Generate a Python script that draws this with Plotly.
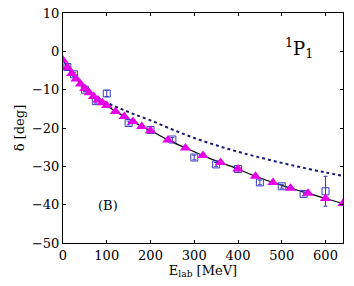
import plotly.graph_objects as go

# Model (triangles + solid line)
tri_x = [0, 10, 20, 30, 40, 50, 60, 70, 80, 90, 100, 120, 140, 160, 180, 200,
         240, 280, 320, 360, 400, 440, 480, 520, 560, 600, 640]
tri_y = [-2.3, -4.2, -5.8, -7.2, -8.5, -9.7, -10.8, -11.8, -12.7, -13.4, -14.1,
         -15.7, -17.0, -18.3, -19.6, -20.7, -23.1, -25.2, -27.2, -29.0, -30.7,
         -32.6, -34.2, -35.7, -37.0, -38.4, -39.7]

# Dotted curve
dot_x = [0, 25, 50, 75, 100, 130, 160, 200, 250, 300, 350, 400, 450, 500, 550, 600, 640]
dot_y = [-2.0, -6.0, -9.5, -11.9, -13.4, -14.9, -16.3, -18.0, -20.4, -22.6, -24.5,
         -26.2, -27.7, -29.1, -30.4, -31.6, -32.5]

# Experimental data (squares)
exp_x = [10, 25, 50, 75, 100, 150, 200, 250, 300, 350, 400, 450, 500, 550, 600]
exp_y = [-4.1, -6.0, -10.0, -13.0, -11.0, -18.7, -20.5, -23.0, -27.7, -29.5,
         -30.7, -34.2, -35.2, -37.2, -36.5]
exp_err = [0.5, 0.5, 0.5, 0.5, 0.8, 0.5, 0.5, 0.5, 0.6, 0.5, 0.5, 0.6, 0.5, 0.5, 3.9]

x_ticks = [0, 100, 200, 300, 400, 500, 600]
y_ticks = [10, 0, -10, -20, -30, -40, -50]
y_labels = ["10", "0", "\u221210", "\u221220", "\u221230", "\u221240", "\u221250"]

font_family = "DejaVu Serif, Liberation Serif, serif"

fig = go.Figure()
fig.add_trace(go.Scatter(x=dot_x, y=dot_y, mode="lines",
                         line=dict(color="#1a1a70", width=2, dash="3px,3px"),
                         line_shape="spline", showlegend=False))
fig.add_trace(go.Scatter(x=tri_x, y=tri_y, mode="lines",
                         line=dict(color="black", width=1.2),
                         line_shape="spline", showlegend=False))
fig.add_trace(go.Scatter(x=exp_x, y=exp_y, mode="markers",
                         marker=dict(symbol="square-open", size=7, color="#3c3cc8",
                                     line=dict(width=1)),
                         error_y=dict(type="data", array=exp_err, color="#3c3cc8",
                                      thickness=1, width=2),
                         showlegend=False))
fig.add_trace(go.Scatter(x=tri_x, y=tri_y, mode="markers",
                         marker=dict(symbol="triangle-up", size=10, color="#e600e6"),
                         showlegend=False))

fig.add_annotation(x=540, y=1.0, text="<sup>1</sup>P<sub>1</sub>", showarrow=False,
                   font=dict(size=18, family=font_family, color="black"))
fig.add_annotation(x=103, y=-40.3, text="(B)", showarrow=False,
                   font=dict(size=13, family=font_family, color="black"))

axis_common = dict(showline=True, linecolor="black", linewidth=1, mirror="ticks",
                   ticks="inside", ticklen=3, tickcolor="black", showgrid=False,
                   zeroline=False, automargin=False,
                   tickfont=dict(size=13, family=font_family, color="black"))

fig.update_xaxes(range=[0, 640], tickvals=x_ticks,
                 title=dict(text="E<sub>lab</sub> [MeV]", standoff=0,
                            font=dict(size=13, family=font_family, color="black")),
                 **axis_common)
fig.update_yaxes(range=[-50, 10], tickvals=y_ticks, ticktext=y_labels,
                 title=dict(text="\u03b4 [deg]", standoff=4,
                            font=dict(size=13, family=font_family, color="black")),
                 **axis_common)

fig.update_layout(width=354, height=286, margin=dict(l=63, r=11, t=13, b=43),
                  plot_bgcolor="white", paper_bgcolor="white")

fig.write_html("out.html", config={"displayModeBar": False},
               post_script="document.body.style.margin='0';document.body.style.padding='0';")
